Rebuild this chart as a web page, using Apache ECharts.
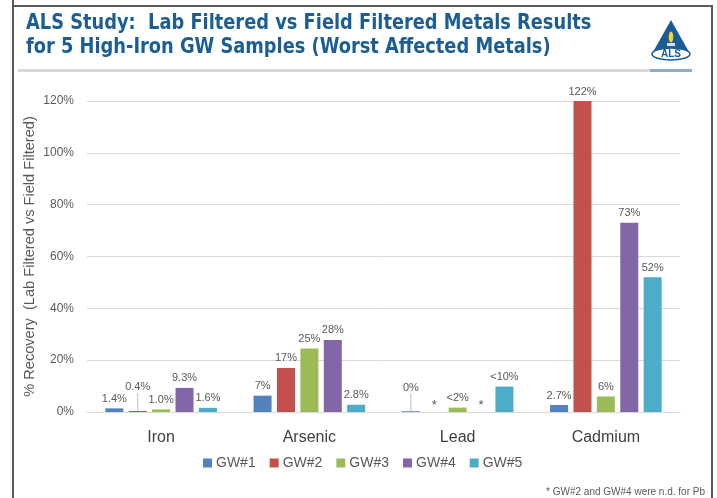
<!DOCTYPE html>
<html>
<head>
<meta charset="utf-8">
<script src="https://cdn.jsdelivr.net/npm/echarts@6/dist/echarts.min.js"></script>
<style>html,body{margin:0;padding:0;background:#fff}#c{width:717px;height:498px}</style>
</head>
<body>
<div id="c"></div>
<script>
var categories = ['Iron', 'Arsenic', 'Lead', 'Cadmium'];
var seriesNames = ['GW#1', 'GW#2', 'GW#3', 'GW#4', 'GW#5'];
var gw1 = [1.4, 6.3, 0.3, 2.7];
var gw2 = [0.4, 17, 0, 122];
var gw3 = [1.0, 24.5, 1.7, 6];
var gw4 = [9.3, 27.8, 0, 73];
var gw5 = [1.6, 2.8, 9.8, 52];
var labels1 = ['1.4%', '7%', '0%', '2.7%'];
var labels2 = ['0.4%', '17%', '*', '122%'];
var labels3 = ['1.0%', '25%', '<2%', '6%'];
var labels4 = ['9.3%', '28%', '*', '73%'];
var labels5 = ['1.6%', '2.8%', '<10%', '52%'];
var yTicks = [0, 20, 40, 60, 80, 100, 120];
var titleLines = ['ALS Study:  Lab Filtered vs Field Filtered Metals Results',
                  'for 5 High-Iron GW Samples (Worst Affected Metals)'];
var colors = ['#5282BE', '#C4504D', '#9BBB59', '#8266A6', '#4BADC8'];

var allValues = [gw1, gw2, gw3, gw4, gw5];
var allLabels = [labels1, labels2, labels3, labels4, labels5];
var lifted = {'1-0': true, '0-2': true};

var chart = echarts.init(document.getElementById('c'), null, {renderer: 'canvas'});
var font = '"Liberation Sans", Arial, sans-serif';

var series = seriesNames.map(function (name, si) {
  return {
    name: name,
    type: 'bar',
    barWidth: 18,
    barGap: '30%',
    itemStyle: {color: colors[si]},
    data: allValues[si].map(function (v, di) {
      var item = {value: v};
      if (lifted[si + '-' + di]) {
        item.labelLine = {show: true, lineStyle: {color: '#BFBFBF', width: 1}};
      }
      if (allLabels[si][di] === '*') {
        item.label = {fontSize: 13, distance: 0};
      }
      return item;
    }),
    label: {
      show: true,
      position: 'top',
      distance: 4,
      color: '#595959',
      fontSize: 11,
      fontFamily: font,
      formatter: function (p) { return allLabels[si][p.dataIndex]; }
    },
    labelLayout: function (p) {
      if (lifted[si + '-' + p.dataIndex]) return {dy: -14};
      return {};
    }
  };
});

var titleFont = 'bold 22px "DejaVu Sans Condensed", "Liberation Sans", sans-serif';

chart.setOption({
  animation: false,
  color: colors,
  grid: {left: 87, right: 37, top: 101, bottom: 86},
  legend: {
    bottom: 23, left: 198,
    itemWidth: 9, itemHeight: 9, itemGap: 14, icon: 'rect',
    textStyle: {color: '#595959', fontSize: 14, fontFamily: font, padding: [0, 0, 0, -1]},
    data: seriesNames
  },
  xAxis: {
    type: 'category',
    data: categories,
    axisTick: {show: false},
    axisLine: {lineStyle: {color: '#D9D9D9'}},
    axisLabel: {color: '#404040', fontSize: 16, fontFamily: font, margin: 18}
  },
  yAxis: {
    type: 'value',
    min: yTicks[0], max: yTicks[yTicks.length - 1], interval: 20,
    name: '% Recovery  (Lab Filtered vs Field Filtered)',
    nameLocation: 'middle', nameGap: 50, nameMoveOverlap: false,
    nameTextStyle: {color: '#595959', fontSize: 14.6, fontFamily: font},
    axisLine: {show: false},
    axisTick: {show: false},
    splitLine: {lineStyle: {color: '#D9D9D9'}},
    axisLabel: {color: '#595959', fontSize: 12, fontFamily: font, margin: 13,
      formatter: function (v) { return v + '%'; }}
  },
  series: series,
  graphic: [
    {type: 'line', shape: {x1: 13, y1: 0, x2: 13, y2: 498}, style: {stroke: '#5A5A5A', lineWidth: 2}},
    {type: 'line', shape: {x1: 12, y1: 6, x2: 713, y2: 6}, style: {stroke: '#5A5A5A', lineWidth: 2}},
    {type: 'line', shape: {x1: 712, y1: 6, x2: 712, y2: 498}, style: {stroke: '#5A5A5A', lineWidth: 2}},
    {type: 'text', x: 26, y: 23, scaleX: 0.9, style: {x: 0, y: 0, text: titleLines[0], fill: '#1B5E96', font: titleFont, textVerticalAlign: 'middle'}},
    {type: 'text', x: 26, y: 47, scaleX: 0.9, style: {x: 0, y: 0, text: titleLines[1], fill: '#1B5E96', font: titleFont, textVerticalAlign: 'middle'}},
    {type: 'rect', shape: {x: 18, y: 69, width: 632, height: 3}, style: {fill: '#D9D9D9'}},
    {type: 'rect', shape: {x: 650, y: 69, width: 42, height: 3}, style: {fill: '#8EAAD0'}},
    {type: 'polygon', shape: {points: [[671, 20], [653, 52], [689, 52]]}, style: {fill: '#1C5C96'}},
    {type: 'ellipse', shape: {cx: 671, cy: 37, rx: 2.3, ry: 5.5}, style: {fill: '#F6D32B'}},
    {type: 'rect', shape: {x: 667, y: 43, width: 8, height: 3}, style: {fill: '#D8E1EC'}},
    {type: 'ellipse', shape: {cx: 671, cy: 54, rx: 19, ry: 6}, style: {fill: '#fff', stroke: '#1C5C96', lineWidth: 1.5}},
    {type: 'text', style: {x: 671, y: 54.5, text: 'ALS', fill: '#1C5C96', font: 'bold 10px "Liberation Sans", Arial', textAlign: 'center', textVerticalAlign: 'middle'}},
    {type: 'text', style: {x: 705, y: 492, text: '* GW#2 and GW#4 were n.d. for Pb', fill: '#595959', font: '10px "Liberation Sans", Arial', textAlign: 'right', textVerticalAlign: 'middle'}}
  ]
});
</script>
</body>
</html>
